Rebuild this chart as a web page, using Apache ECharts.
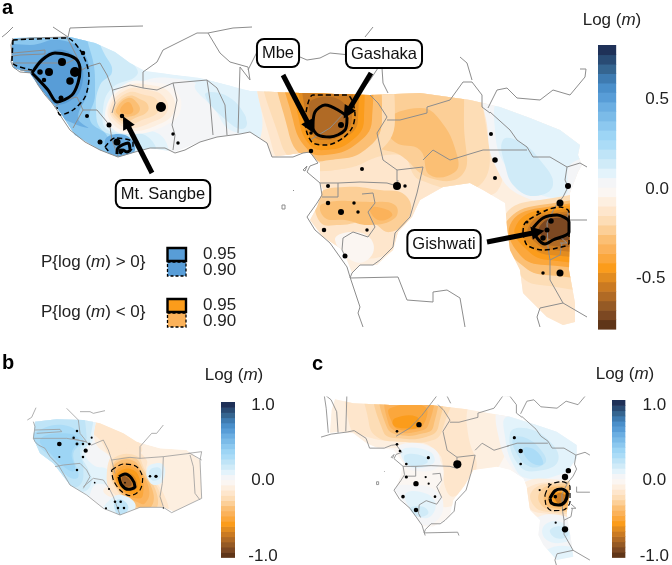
<!DOCTYPE html>
<html><head><meta charset="utf-8"><style>html,body{margin:0;padding:0;background:#fff}#c{width:672px;height:565px}</style>
<script src="https://cdn.jsdelivr.net/npm/echarts@6/dist/echarts.min.js"></script></head><body><div id="c"></div>
<script>
// colour scale, low to high
const barColors=['#5f3518','#7c4822','#955a25','#b06a25','#ca7a22','#e28c20','#fb9c1b','#fba73c','#fbb25a','#fbbf74','#fccf97','#fdddb6','#fee6cc','#fdefe0','#fbf6f2','#f4f5f7','#e3f3fb','#d0ebf8','#bfe4f7','#abdcf7','#9dd5f5','#8cc8ef','#7bbbe8','#6baee2','#589dd7','#4a8fca','#3e7bb1','#356590','#294b74','#1f3158'];
// map borders (panel a map units)
const borders=[
[2,37,7,33,13,27],
[13,38,11,45,12,55,11,62,13,67,20,72,32,73,38,85,45,95,52,103,57,110,62,118,70,130,85,142,100,150,118,157,135,152,150,148,165,148,175,153,185,150,200,142,217,137,240,134,250,132,267,143,272,157,293,157,303,153,310,152,318,163,310,166,307,172,320,183,322,195,317,203,307,217,315,230,330,243,347,267,350,277,360,307,358,313,363,327],
[13,40,30,38,67,37,77,57,82,70],[53,27,68,37],[68,37,70,28,98,27,100,25,143,26],
[13,53,45,50,45,54,20,55,13,56],[12,63,37,63,67,63,77,58],[20,70,32,71],
[62,54,77,58,82,70,87,67,100,63,107,75,112,88,115,103,112,113],[55,107,63,100,77,97,83,110,73,128],
[83,110,97,110,107,122,110,127,112,140,118,156],[113,90,130,85,143,88,157,90,173,83,207,80,217,88],
[173,83,177,100,172,125,175,135,173,150],[207,80,210,100,213,135],[217,88,225,105,227,135],
[143,88,143,72,157,62,163,50,197,33,208,33,220,53,230,62,248,67,250,80,240,67,238,133],[208,33,233,28,252,27],
[248,70,258,50,272,52,300,57,307,60,320,58,330,53,350,55,378,68,382,68,383,83,388,93],[365,37,373,27],
[310,140,330,128,347,110,370,80,378,68],[370,95,378,103,387,117,377,133,383,160,397,170,397,186],
[387,120,400,120,427,113,427,107,450,100,463,82,472,82,482,95,482,107,490,113],[460,57,467,63,472,80],
[488,108,497,90,507,88,517,98,540,100,553,90,570,95,580,83,585,77,586,69,580,69],
[490,112,510,130,517,140,527,147,533,157,550,157,567,167,580,163,587,167],
[423,160,433,150,450,160,473,153,483,150,510,150,527,150],
[397,170,423,167,417,193,410,217,395,233,393,247,380,260,373,265,360,265,352,273,350,278],
[320,183,338,183,338,197,322,197],[338,183,360,182,387,183,397,186,398,180],
[362,194,373,193,375,203,368,212,375,227,368,237,353,232,343,238,342,250,345,256],
[350,278,398,277,407,300,433,302,433,292,447,290,460,298,465,327],
[567,167,565,180,568,187,563,197,555,207,547,223,548,247,550,260,560,255,562,243],
[568,212,568,220,587,220],[550,260,550,280,563,303,587,317],[563,303,540,308,537,317,540,327],[560,237,567,243,560,243],
[282,205,285,205,285,209,282,209,282,205],[293,190,294,191],[303,170,307,166,309,168,305,171,303,170]
];
// panel b borders (panel b map units)
const bordersB=[
[82,150,95,142,108,113],
[100,155,105,170,100,205,105,215,115,225,135,235,150,260,175,285,210,345,260,375,310,415,360,435,420,412,490,412,515,428,605,385],
[200,115,235,150,240,190,260,215],[240,125,270,125,280,130,315,122],
[105,180,180,178,185,185,110,190],[100,205,200,205,260,215],
[215,205,255,215,275,225,310,210,325,240,335,270,345,310],
[165,290,190,285,240,280,260,300,270,320,250,355],
[250,350,280,325,310,330,330,360,340,380,360,435],
[335,270,390,262,420,265,490,260,570,250,605,270],
[420,265,420,230,455,190,470,190,490,165],[565,250,605,245,600,270],
[490,260,487,340,480,380,490,410],[570,255,580,290,585,370,600,390],[600,270,605,385]
];
// fitted surface outline and filled levels: [log(m), outline]
const domainA=[12,40,15,38,70,37,95,43,115,52,130,63,145,71,200,78,250,91,300,93,370,95,420,93,470,100,500,107,530,118,560,130,580,145,578,155,582,165,578,172,570,193,569,270,575,303,575,322,563,325,547,317,538,308,523,293,520,270,510,250,507,227,505,203,483,190,470,183,443,187,420,200,412,217,398,232,393,250,377,265,360,265,352,273,343,250,323,237,310,220,317,207,323,190,320,182,320,163,310,153,300,153,272,157,267,143,250,132,217,137,200,142,175,152,150,148,118,157,100,150,75,135,60,112,50,100,38,85,30,73,14,68,12,55];
const bandsA=[
[.03,domainA],
[.08,[-60,-30,100,10,150,68,262,82,275,135,245,145,232,115,205,88,170,78,140,82,115,95,106,125,130,127,165,140,160,175,100,175,-60,130]],
[.13,[-60,-30,95,10,132,62,137,75,112,88,103,110,108,130,145,135,155,155,118,170,40,130,-60,130]],
[.24,[-60,-30,80,15,105,55,112,72,100,85,96,110,102,130,125,140,118,170,60,140,-60,120]],
[.34,[-60,-30,70,15,90,50,95,95,90,120,108,138,100,160,60,135,-60,110]],
[.45,[-60,40,30,45,60,40,85,55,88,90,78,118,88,128,50,115,-60,90]],
[.50,[30,72,55,50,78,60,82,85,68,102,50,102,35,80]],
[.45,[105,140,125,135,135,150,118,162]],
[.08,[195,85,225,82,250,110,250,130,230,130,215,110]],
[.13,[205,95,225,95,245,115,245,128,232,125]],
[.08,[248,85,262,90,268,135,250,132]],
[-.03,[106,108,125,84,150,82,175,90,180,112,160,128,130,134,112,128]],
[-.08,[108,108,125,87,150,85,170,93,174,112,155,126,130,131,114,125]],
[-.13,[110,108,126,90,148,90,164,97,167,112,150,123,130,128,116,122]],
[-.18,[112,110,127,93,145,95,157,100,158,112,142,120,128,125,117,120]],
[-.24,[114,110,128,96,142,100,148,105,147,112,135,118,126,122,118,118]],
[-.29,[116,110,128,98,138,104,139,112,128,117,120,116]],
[-.34,[120,110,128,102,133,108,132,113,125,114]],
[-.08,[266,60,640,60,640,360,300,360,250,175,262,130]],
[-.13,[270,60,470,60,490,120,498,190,440,195,395,250,345,255,310,230,295,172,273,150]],
[-.18,[276,60,460,60,485,120,480,185,420,180,400,155,335,170,300,165,283,140]],
[-.24,[375,60,450,60,465,140,462,175,430,178,400,155,378,145,390,120]],
[-.29,[385,122,420,108,440,120,457,155,455,172,430,175,420,150,395,142]],
[-.24,[318,195,345,187,380,190,405,195,410,215,390,232,370,222,340,225,320,222]],
[-.29,[322,204,370,202,395,205,395,218,370,225,345,220,325,218]],
[-.34,[370,208,388,210,392,216,378,220]],
[-.03,[335,240,350,232,370,238,372,255,355,262]],
[-.18,[270,60,375,60,395,120,375,155,335,170,300,165,280,140]],
[-.29,[283,60,365,60,382,120,365,150,330,160,305,158,288,130]],
[-.40,[288,60,360,60,372,120,355,145,325,155,308,150,293,120]],
[-.45,[295,60,352,60,364,120,350,142,325,150,310,145,299,120]],
[-.50,[303,60,348,60,358,120,345,138,322,145,312,140,303,120]],
[-.55,[307,70,345,70,352,118,342,135,322,140,313,135,306,118]],
[-.61,[312,100,340,100,348,120,340,132,322,137,314,130,310,115]],
[.03,[485,80,620,110,620,165,575,185,565,200,520,195,495,165,487,125]],
[.08,[500,100,540,115,600,150,570,165,565,195,530,190,505,165,495,130]],
[.13,[503,140,520,142,540,160,553,185,535,196,515,187,505,165]],
[-.13,[512,275,640,275,640,360,530,360]],
[-.18,[505,215,540,200,640,200,640,285,540,285,520,275,508,250]],
[-.29,[506,222,540,205,640,205,640,270,545,275,518,262,508,245]],
[-.40,[510,225,540,208,640,208,640,262,545,265,520,255]],
[-.45,[515,228,540,210,640,210,640,258,548,260,525,248]],
[-.50,[522,228,545,212,640,212,640,253,550,255,530,245]],
[-.55,[528,228,548,214,640,214,640,250,552,250,535,242]],
[-.61,[533,230,550,216,640,218,640,246,555,246,540,240]],
[-.71,[538,230,553,218,640,222,640,238,558,240,545,237]]
];
const domainB=[105,155,170,148,250,150,300,160,370,190,410,215,480,235,560,240,600,270,605,385,520,425,490,410,420,412,360,435,310,415,260,375,210,345,160,280,120,250,100,205];
const bandsB=[
[-.1,domainB],
[-.17,[280,130,340,170,420,220,420,250,340,260,300,210,275,180]],
[.03,[20,100,280,100,285,215,335,270,335,340,310,360,330,380,400,395,400,460,300,450,150,360,20,280]],
[.1,[20,100,270,100,278,210,255,245,280,285,325,300,325,340,285,345,255,390,180,360,20,270]],
[.17,[20,100,262,110,270,210,245,250,265,300,275,335,250,365,190,350,20,260]],
[.24,[40,110,225,110,260,200,240,240,250,290,240,345,200,345,60,260]],
[.31,[100,190,190,165,250,210,220,250,235,320,205,320,150,260,100,210]],
[.38,[120,210,175,190,235,205,215,250,225,300,205,300,150,250]],
[-.17,[345,245,400,240,440,270,440,300,490,370,500,430,420,430,390,395,340,370,320,320]],
[-.24,[345,262,410,258,435,300,480,370,478,425,410,425,350,360,330,310]],
[-.31,[350,270,405,265,430,300,470,370,465,420,415,420,355,360,335,310]],
[-.38,[350,278,400,272,428,310,460,370,450,415,420,415,360,365,338,315]],
[-.45,[355,285,400,282,428,315,448,365,435,400,420,400,370,370,340,320]],
[-.52,[360,292,400,292,425,320,430,365,420,385,380,372,345,325]],
[-.58,[365,300,400,300,420,330,420,360,395,372,365,355,348,325]],
[-.65,[365,308,395,312,412,340,408,358,385,362,358,340,352,320]],
[-.72,[368,314,390,322,405,350,385,358,365,345,358,325]],
[-.86,[368,318,385,325,395,345,380,350,368,338]],
[.1,[335,385,365,375,405,400,395,430,360,450,310,425]],
[.24,[345,395,368,390,385,415,360,440,345,420]],
[.1,[440,300,455,283,490,285,490,330,465,345,445,330]],
[.17,[450,300,480,295,480,325,455,330]]
];
const domainC=[75,88,130,100,240,105,360,105,470,118,530,128,600,140,680,165,740,185,800,225,800,265,775,300,780,360,770,430,785,520,790,560,740,570,700,525,685,495,690,450,660,420,650,350,640,325,600,300,560,290,490,300,465,345,430,390,420,440,370,470,340,470,300,420,255,360,270,320,280,280,250,240,205,235,170,220,130,190,90,185,60,188,65,120];
const bandsC=[
[-.03,domainC],
[-.1,[0,40,540,60,600,140,560,300,480,320,440,400,380,400,400,300,360,250,260,235,180,230,0,210]],
[-.17,[130,40,460,60,470,160,480,220,500,290,470,340,430,380,405,350,400,290,385,250,330,215,260,215,170,200,120,170]],
[-.24,[175,40,420,40,400,170,370,210,270,215,200,200,175,150]],
[-.31,[205,40,385,40,385,170,350,200,270,205,220,185]],
[-.38,[220,60,370,60,370,170,340,190,270,195,230,170]],
[-.45,[235,70,360,70,355,165,320,185,265,185,235,160]],
[-.52,[240,115,345,110,340,165,310,178,265,178,245,155]],
[-.58,[255,145,320,140,325,170,280,175,250,165]],
[.03,[270,225,370,235,385,290,300,300,280,270]],
[.1,[275,240,360,245,370,280,300,290]],
[.17,[285,255,345,260,350,280,295,285]],
[.03,[250,355,300,345,375,360,400,410,370,460,330,460,270,400]],
[.1,[285,375,330,365,375,395,360,440,320,435]],
[.17,[300,415,340,410,355,430,325,440]],
[.03,[570,110,680,140,830,210,830,290,770,335,650,335,610,300,570,220]],
[.1,[590,140,680,160,790,205,800,275,745,315,650,325,610,285,585,200]],
[.17,[600,190,650,175,720,215,745,270,700,300,630,290]],
[.24,[610,205,650,205,700,250,705,280,660,290,620,250]],
[.31,[640,235,675,240,700,280,680,285,650,265]],
[-.1,[640,340,770,330,830,340,830,440,680,440,645,420]],
[-.17,[650,355,770,335,830,345,830,430,700,430,655,410]],
[-.24,[665,365,720,340,830,345,830,420,710,425,670,405]],
[-.31,[690,365,725,345,830,350,830,415,725,420,690,400]],
[-.38,[705,370,730,350,820,360,820,410,730,415,705,400]],
[-.45,[715,375,735,360,785,365,780,400,740,410,718,400]],
[-.58,[725,380,745,365,775,375,768,395,745,405]],
[-.72,[735,378,752,368,768,380,760,395,742,398]],
[.03,[670,450,780,445,830,520,760,532,680,532]],
[.1,[700,470,750,455,780,490,770,515,710,510]],
[.17,[720,480,760,470,775,495,740,505]],
[.1,[710,540,800,535,830,585,730,585]]
];
// probability contours
const solidA=[[32,73,42,60,55,53,68,55,77,60,80,70,78,83,72,95,57,102,48,90,37,78,32,73],[117,154,118,148,128,143,130,150,127,152,123,150,120,154],[313,125,315,112,325,105,338,110,347,118,345,130,330,137,318,135,313,128,313,125],[533,228,543,218,557,215,569,222,569,232,553,240,545,244,537,238,533,228]];
const dashA=[[13,40,67,38,80,50,87,65,89,77,85,97,73,110,60,115,57,107],[13,40,12,62,32,70],[105,147,115,138,133,142,133,148,127,152],[105,147,110,153],[305,120,313,95,347,95,355,115,352,128,343,138,327,145,313,143,307,133,305,120],[523,233,525,223,547,210,560,207,569,212,569,243,557,248,543,250,527,245,523,233]];
const solidB=[[357,320,375,312,395,325,405,350,385,358,365,345,357,320]];
const dashB=[[335,300,370,282,410,290,428,325,420,360,390,377,360,360,340,330,335,300]];
const solidC=[[720,385,735,362,755,357,772,370,765,395,745,405,725,400,720,385]];
const dashC=[[705,375,720,345,755,335,780,350,780,395,760,420,725,422,708,405,705,375]];
// sampled sites: x, y, size
const sitesA=[[62,62,8],[49,72,8],[40,72,5.5],[44,80,4.5],[75,72,10],[70,81,7.5],[61,98,5],[83,53,4.5],[87,116,4],[109,125,5],[100,142,5],[117,142,7],[122,116,4.5],[161,107,10],[173,134,3.5],[178,143,3.5],[121,151,5],[311,133,3.5],[341,125,6],[311,151,4.5],[362,169,4],[328,186,4],[397,186,8],[405,186,3.5],[491,134,4],[495,160,5.5],[495,178,4],[568,186,6],[560,203,7],[328,203,4.5],[354,203,3.5],[341,212,6],[358,212,3.5],[324,230,4.5],[367,230,3.5],[345,256,5],[551,221,5.5],[547,230,5],[543,238,5.5],[543,273,3.5],[560,273,7],[538,212,3],[527,222,3]];
const sitesB=[[178,222,5.5],[231,183,3],[275,203,2.5],[221,203,3],[231,222,3.5],[249,222,3],[268,222,3],[257,242,5],[249,261,3],[178,261,2.5],[231,300,3],[284,338,2],[327,357,2.5],[345,395,3],[362,395,3],[354,414,3],[372,414,3],[318,415,2.5],[450,319,3],[468,319,4],[375,338,2],[490,414,1.5]];
const sitesC=[[327,164,6],[261,184,3],[261,223,3],[270,243,3],[355,263,3.5],[289,282,3],[442,283,9],[289,321,3.5],[347,321,2.5],[318,341,6],[356,341,2.5],[279,380,4],[375,380,3],[318,420,5],[613,203,3.5],[632,243,5],[632,282,3],[775,302,6],[765,321,7],[689,360,2.5],[736,380,4],[737,458,2.5],[765,478,7],[717,342,2]];
// callouts
const calloutNames=['Mt. Sangbe','Mbe','Gashaka','Gishwati'];
const calloutAt=[[163,194],[278,53],[384,54],[444,244]];
const arrowFrom=[[152,173],[283,75],[371,73],[487,242]];
const arrowTo=[[126,122],[310,127],[347,113],[538,232]];
// colour bars
const barA={min:-.782,max:.804,ticks:[-.5,0,.5]};
const barB={min:-1.01,max:1.04,ticks:[-1,0,1]};
const barC={min:-1.01,max:1.065,ticks:[-1,0,1]};

const FONT='"Liberation Sans",Arial,sans-serif';
const pairs=a=>{const r=[];for(let i=0;i<a.length;i+=2)r.push([a[i],a[i+1]]);return r;};
const grids=[],xAxes=[],yAxes=[],series=[];
function addGrid(l,t,w,h,xr,yr,yOpt){
  grids.push({left:l,top:t,width:w,height:h});
  xAxes.push({type:'value',gridIndex:grids.length-1,min:xr[0],max:xr[1],show:false});
  yAxes.push(Object.assign({type:'value',gridIndex:grids.length-1,min:yr[0],max:yr[1],inverse:true,show:false},yOpt||{}));
  return grids.length-1;
}
function bandSeries(g,bands,domain,span){
  const color=v=>{let i=Math.floor((v+span)/(2*span)*30);return barColors[Math.max(0,Math.min(29,i))];};
  series.push({type:'custom',xAxisIndex:g,yAxisIndex:g,z:1,silent:true,animation:false,clip:false,
    data:bands.map((b,i)=>[i]),encode:{x:[],y:[]},
    renderItem(p,api){
      const b=bands[api.value(0)];
      const m=a=>pairs(a).map(q=>api.coord(q));
      return {type:'polygon',shape:{points:m(b[1]),smooth:b[1]===domain?0:0.45},
        clipPath:{type:'polygon',shape:{points:m(domain),smooth:0}},
        style:{fill:color(b[0]),stroke:null}};
    }});
}
function lineSeries(g,rings,col,w,dash,z,smooth){
  const d=[];rings.forEach(r=>{d.push(...pairs(r));d.push(['-','-']);});
  series.push({type:'line',xAxisIndex:g,yAxisIndex:g,data:d,showSymbol:false,symbol:'none',z:z,silent:true,animation:false,smooth:smooth||0,connectNulls:false,
    lineStyle:{color:col,width:w,type:dash||'solid',dashOffset:0}});
}
function siteSeries(g,s,k){
  series.push({type:'scatter',xAxisIndex:g,yAxisIndex:g,data:s,z:6,silent:true,animation:false,symbolSize:v=>v[2]*k,itemStyle:{color:'#000',opacity:1}});
}
function bar(l,t,w,h,b,center,pad){
  const g=addGrid(l,t,w,h,[0,1],[b.min,b.max],{inverse:false,show:true,position:'right',
    axisLine:{show:false},axisTick:{show:false},splitLine:{show:false},
    axisLabel:{show:true,customValues:b.ticks,margin:center-(l+w),align:'center',fontFamily:FONT,fontSize:17,color:'#222',
      formatter:v=>v<0?`{n|${v.toFixed(1)}}`:v.toFixed(1),rich:{n:{fontFamily:FONT,fontSize:17,color:'#222',padding:[0,pad,0,0]}}}});
  const st=(b.max-b.min)/30;
  series.push({type:'custom',xAxisIndex:g,yAxisIndex:g,silent:true,animation:false,z:2,
    data:barColors.map((c,i)=>[i]),encode:{x:[],y:[]},
    renderItem(p,api){
      const i=api.value(0),a=api.coord([0,b.min+i*st]),e=api.coord([1,b.min+(i+1)*st]);
      return {type:'rect',shape:{x:a[0],y:e[1],width:e[0]-a[0],height:a[1]-e[1]+.6},style:{fill:barColors[i]}};
    }});
}
// panel a
const ga=addGrid(0,0,590,335,[0,590],[0,335]);
bandSeries(ga,bandsA,domainA,.79);
lineSeries(ga,borders,'#8d8d8d',1,null,3);
lineSeries(ga,solidA,'#000',3,null,4,.3);
lineSeries(ga,dashA,'#000',1.5,[5,3],4,.3);
siteSeries(ga,sitesA,1);
series.push({type:'lines',coordinateSystem:'cartesian2d',xAxisIndex:ga,yAxisIndex:ga,z:7,silent:true,animation:false,
  symbol:['none','triangle'],symbolSize:13,lineStyle:{color:'#000',width:5,opacity:1,curveness:0},
  data:arrowFrom.map((f,i)=>({coords:[f,arrowTo[i]]}))});
series.push({type:'scatter',xAxisIndex:ga,yAxisIndex:ga,z:8,silent:true,animation:false,symbolSize:1,itemStyle:{color:'transparent'},
  data:calloutAt.map((c,i)=>({name:calloutNames[i],value:c})),
  label:{show:true,position:'inside',opacity:1,formatter:'{b}',fontFamily:FONT,fontSize:16.5,color:'#111',backgroundColor:'#fff',borderColor:'#000',borderWidth:2,borderRadius:6,padding:[5,4,4,4]}});
bar(598,45,24,284,barA,663,13);
// panel b
const gb=addGrid(0,395,205,170,[0,615],[75,585]);
bandSeries(gb,bandsB,domainB,1.03);
lineSeries(gb,bordersB,'#9a9a9a',.8,null,3);
lineSeries(gb,solidB,'#000',3,null,4,.3);
lineSeries(gb,dashB,'#000',1.2,[5,3],4,.3);
siteSeries(gb,sitesB,.85);
bar(221,402,14,156,barB,263,0);
// panel c
const gc=addGrid(322,397,276,168,[36,864],[81,585]);
bandSeries(gc,bandsC,domainC,1.03);
const gcw=addGrid(322,397,186,138,[204,470],[84,281]);
lineSeries(gcw,borders,'#8d8d8d',.9,null,3);
const gce=addGrid(508,397,84,168,[470,590],[84,324]);
lineSeries(gce,borders,'#8d8d8d',.9,null,3);
lineSeries(gc,solidC,'#000',3.2,null,4,.3);
lineSeries(gc,dashC,'#000',1.2,[5,3],4,.3);
siteSeries(gc,sitesC,.9);
bar(612,400,14,160,barC,655,0);

const rich={i:{fontFamily:FONT,fontSize:17,fontStyle:'italic',fill:'#222',color:'#222'}};
function txt(x,y,s,o){return {type:'text',x,y,z:20,style:Object.assign({text:s,fontFamily:FONT,fontSize:17,fill:'#222',textAlign:'left',textVerticalAlign:'middle',rich},o||{})};}
function sw(y,h,fill,dash){return {type:'rect',z:20,shape:{x:167.5,y,width:18.5,height:h},style:{fill,stroke:'#000',lineWidth:dash?1.3:2.4,lineDash:dash?[3,2]:null}};}
const graphic=[
 txt(2,8,'a',{fontWeight:'bold',fontSize:20,fill:'#000'}),txt(2,363,'b',{fontWeight:'bold',fontSize:20,fill:'#000'}),txt(312,364,'c',{fontWeight:'bold',fontSize:20,fill:'#000'}),
 txt(612,20,'Log ({i|m})',{textAlign:'center'}),txt(234,375,'Log ({i|m})',{textAlign:'center'}),txt(625,374,'Log ({i|m})',{textAlign:'center'}),
 txt(41,262,'P{log ({i|m}) > 0}'),txt(41,312,'P{log ({i|m}) < 0}'),
 txt(203,254,'0.95'),txt(203,270,'0.90'),txt(203,305,'0.95'),txt(203,321,'0.90'),
 sw(262,14,'#589dd7',1),sw(248,13,'#589dd7',0),sw(313,14,'#fbb25a',1),sw(299,13,'#fb9c1b',0)
];
const chart=echarts.init(document.getElementById('c'),null,{renderer:'canvas'});
chart.setOption({animation:false,backgroundColor:'#fff',grid:grids,xAxis:xAxes,yAxis:yAxes,series,graphic});
</script></body></html>
